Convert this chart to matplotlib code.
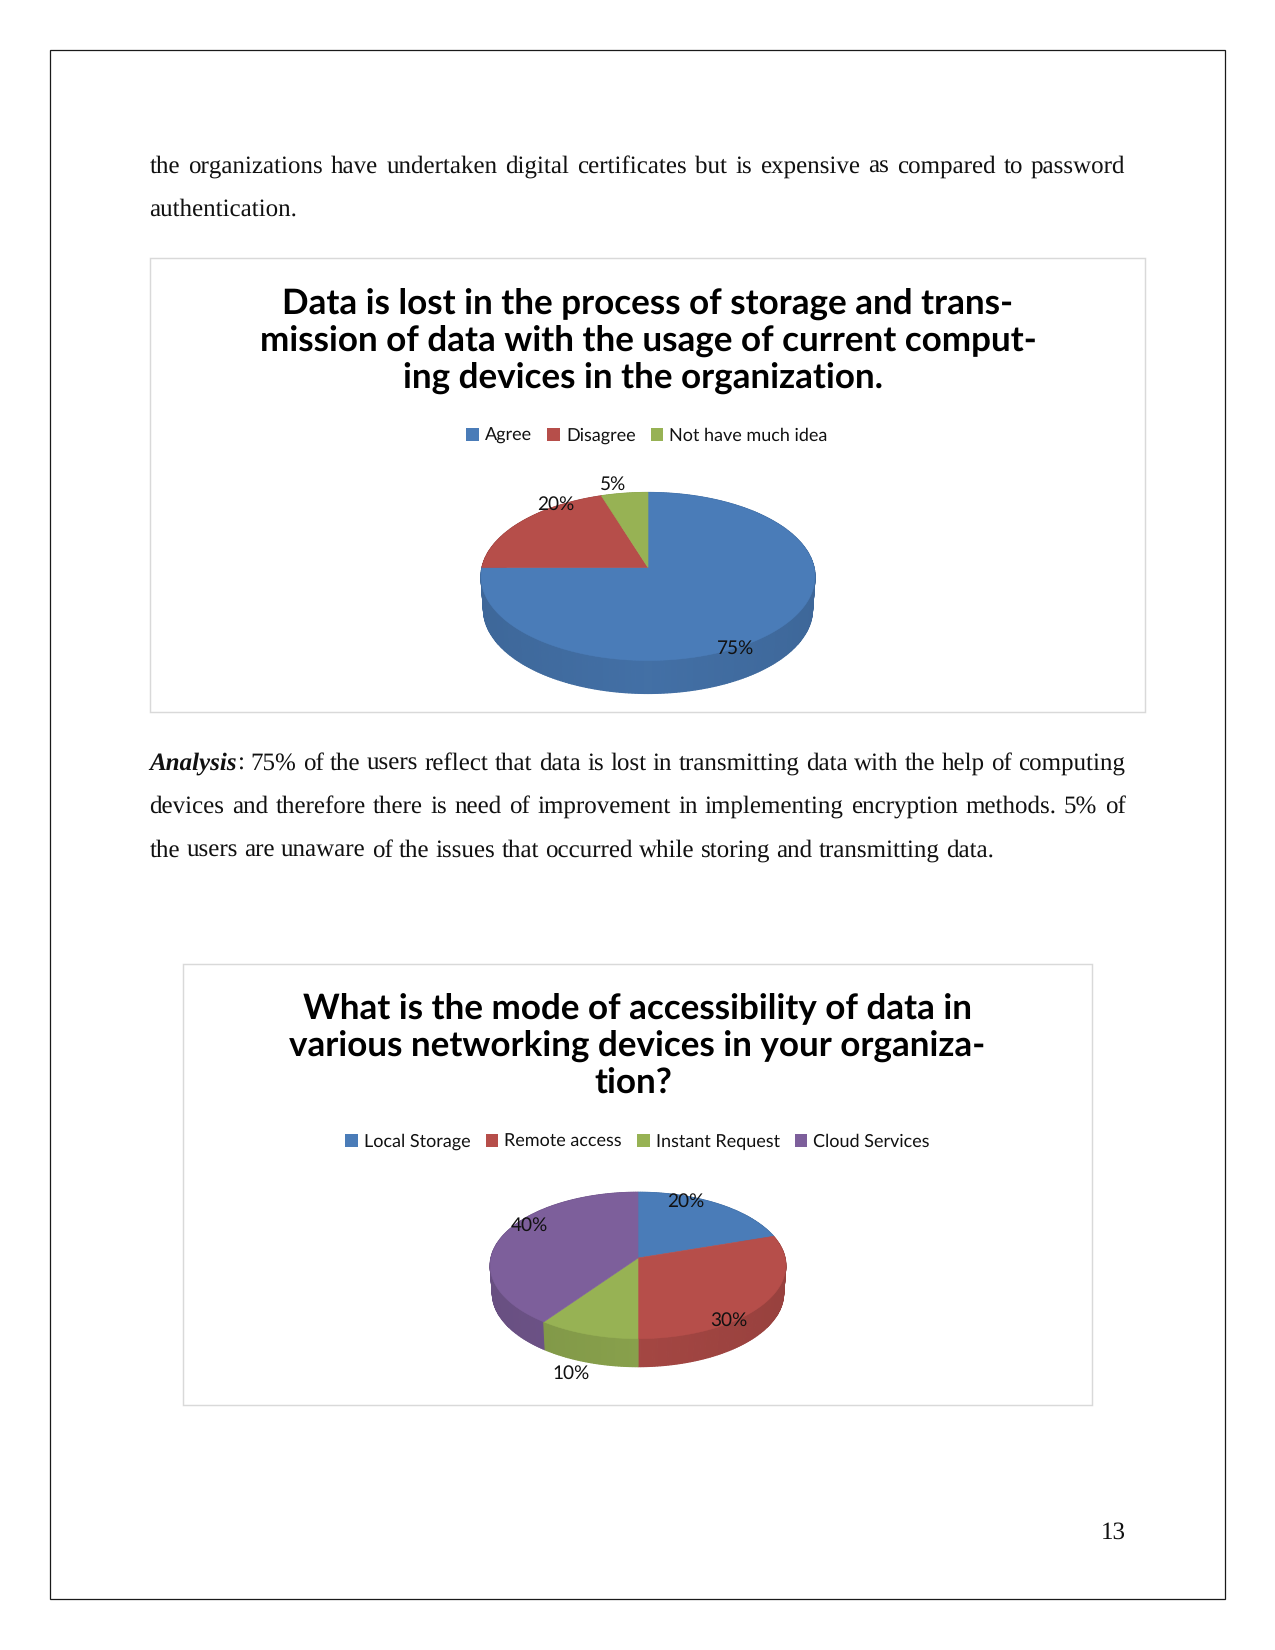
import numpy as np
import matplotlib
matplotlib.use("Agg")
import matplotlib.pyplot as plt
from matplotlib.patches import Rectangle

plt.rcParams["text.hinting"] = "no_hinting"
plt.rcParams["text.hinting_factor"] = 1

# Chart data
Title1_lines = ["Data is lost in the process of storage and trans-",
                "mission of data with the usage of current comput-",
                "ing devices in the organization."]
Labels1 = ["Agree", "Disagree", "Not have much idea"]
Values1 = [75, 20, 5]
Colours1 = ["#4a7cb8", "#b64e4a", "#97b254"]

Title2_lines = ["What is the mode of accessibility of data in",
                "various networking devices in your organiza-",
                "tion?"]
Labels2 = ["Local Storage", "Remote access", "Instant Request", "Cloud Services"]
Values2 = [20, 30, 10, 40]
Colours2 = ["#4a7cb8", "#b64e4a", "#97b254", "#7d5f9b"]

# Page text
Para1 = ["the organizations have undertaken digital certificates but is expensive as compared to password",
         "authentication."]
Para2 = ["Analysis: 75% of the users reflect that data is lost in transmitting data with the help of computing",
         "devices and therefore there is need of improvement in implementing encryption methods. 5% of",
         "the users are unaware of the issues that occurred while storing and transmitting data."]
PageNumber = "13"

W, H = 1275, 1650
SerifFont = "Liberation Serif"
ChartFont = "Lato"
BodySize = 12
TitleSize = 16.75
LegendSize = 8.8
LabelSize = 9.2

fig = plt.figure(figsize=(W / 150, H / 150), dpi=150)
page = fig.add_axes([0, 0, 1, 1])
page.set_xlim(0, W)
page.set_ylim(H, 0)
page.axis("off")
renderer = fig.canvas.get_renderer()


def text_width(s, **kw):
    t = page.text(0, 0, s, **kw)
    w = t.get_window_extent(renderer).width
    t.remove()
    return w


def write_line(line, x0, x1, y, justify):
    # Words are placed one by one so that the line can be justified
    words = line.split(" ")
    kw = dict(family=SerifFont, fontsize=BodySize, color="#111111")
    bold = dict(weight="bold", style="italic", family=SerifFont, fontsize=BodySize, color="#111111")
    widths = []
    for w in words:
        if w == "Analysis:":
            widths.append(text_width("Analysis", **bold) + text_width(":", **kw))
        else:
            widths.append(text_width(w, **kw))
    if justify:
        gap = (x1 - x0 - sum(widths)) / (len(words) - 1)
    else:
        gap = text_width("a b", **kw) - text_width("ab", **kw)
    x = x0
    for w, wd in zip(words, widths):
        if w == "Analysis:":
            page.text(x, y, "Analysis", va="baseline", ha="left", **bold)
            page.text(x + text_width("Analysis", **bold), y, ":", va="baseline", ha="left", **kw)
        else:
            page.text(x, y, w, va="baseline", ha="left", **kw)
        x += wd + gap


def persp(theta, a, b, k):
    # Circle seen in perspective, the near edge comes out larger
    d = 1 + k * np.sin(theta)
    return a * np.cos(theta) / d, b * np.sin(theta) / d


def draw_pie(values, colours, cx, cy, a, b, k, depth, label_offsets):
    hw, hh = a + 60, b + depth + 60
    ax = fig.add_axes([(cx - hw) / W, 1 - (cy + hh) / H, 2 * hw / W, 2 * hh / H])
    ax.set_xlim(-hw, hw)
    ax.set_ylim(-hh, hh)
    ax.axis("off")
    ax.patch.set_alpha(0)

    fractions = np.array(values) / np.sum(values)
    edges = np.pi / 2 - 2 * np.pi * np.concatenate(([0], np.cumsum(fractions)))

    # Side wall, from the back to the front, a bit narrower at the bottom
    quads = []
    for i in range(len(values)):
        steps = np.linspace(edges[i], edges[i + 1], max(int(fractions[i] * 360), 2) + 1)
        for t0, t1 in zip(steps[:-1], steps[1:]):
            quads.append((t0, t1, colours[i]))
    quads.sort(key=lambda q: -np.sin((q[0] + q[1]) / 2))
    for t0, t1, col in quads:
        xa, ya = persp(np.array([t0, t1]), a, b, k)
        shade = 0.90 - 0.07 * abs(np.cos((t0 + t1) / 2))
        c = np.array(matplotlib.colors.to_rgb(col)) * shade
        ax.fill([xa[0], xa[1], xa[1] * 0.985, xa[0] * 0.985], [ya[0], ya[1], ya[1] - depth, ya[0] - depth],
                color=c, lw=0.6, zorder=2)

    # Top face
    for i in range(len(values)):
        t = np.linspace(edges[i], edges[i + 1], 200)
        xs, ys = persp(t, a, b, k)
        ax.fill(np.r_[0, xs], np.r_[0, ys], color=colours[i], lw=0.3, zorder=3)

    for i in range(len(values)):
        ax.text(label_offsets[i][0], -label_offsets[i][1], f"{values[i]}%", ha="center", va="center",
                family=ChartFont, fontsize=LabelSize, color="#111111", zorder=4)


def draw_legend(labels, colours, cx, baseline):
    # Square, gap, text and a wider gap, centred as one row on cx
    box, pad, spacing = 12.7, 6, 15
    kw = dict(family=ChartFont, fontsize=LegendSize, color="#111111")
    widths = [text_width(l, **kw) for l in labels]
    x = cx - (sum(widths) + len(labels) * (box + pad) + (len(labels) - 1) * spacing) / 2
    for l, c, wd in zip(labels, colours, widths):
        page.add_patch(Rectangle((x, baseline - box), box, box + 0.5, fc=c, ec="none"))
        page.text(x + box + pad, baseline, l, ha="left", va="baseline", **kw)
        x += box + pad + wd + spacing


# Page border and chart frames
page.add_patch(Rectangle((49.8, 50), 1175.2, 1549, fill=False, ec="#1a1a1a", lw=0.6))
page.add_patch(Rectangle((150, 258), 995, 454, fill=False, ec="#d9d9d9", lw=0.7))
page.add_patch(Rectangle((183, 964), 909, 441, fill=False, ec="#d9d9d9", lw=0.7))

# Body text
for line, y, just in zip(Para1, [172.5, 215.5], [True, False]):
    write_line(line, 149.5, 1125.5, y, just)
for line, y, just in zip(Para2, [770, 813, 857], [True, True, False]):
    write_line(line, 149.5, 1125.5, y, just)
page.text(1125.5, 1539, PageNumber, ha="right", va="baseline", family=SerifFont, fontsize=BodySize, color="#111111")

# First chart
for line, y, x in zip(Title1_lines, [313.5, 351, 387.5], [648, 648, 643]):
    page.text(x, y, line, ha="center", va="baseline", family=ChartFont, weight="bold", fontsize=TitleSize, color="black")
draw_legend(Labels1, Colours1, 647, 441)
draw_pie(Values1, Colours1, 648, 567.5, 166, 83, 0.107, 33,
         [(88, 81), (-92, -63), (-35, -83)])

# Second chart
for line, y, x in zip(Title2_lines, [1018.6, 1055.5, 1093.5], [637.5, 637.5, 633.5]):
    page.text(x, y, line, ha="center", va="baseline", family=ChartFont, weight="bold", fontsize=TitleSize, color="black")
draw_legend(Labels2, Colours2, 637.5, 1146.6)
draw_pie(Values2, Colours2, 638, 1258, 147, 72.4, 0.102, 28,
         [(48, -57), (91, 62), (-67, 115), (-109, -33)])

plt.savefig("out.png", dpi=150)
